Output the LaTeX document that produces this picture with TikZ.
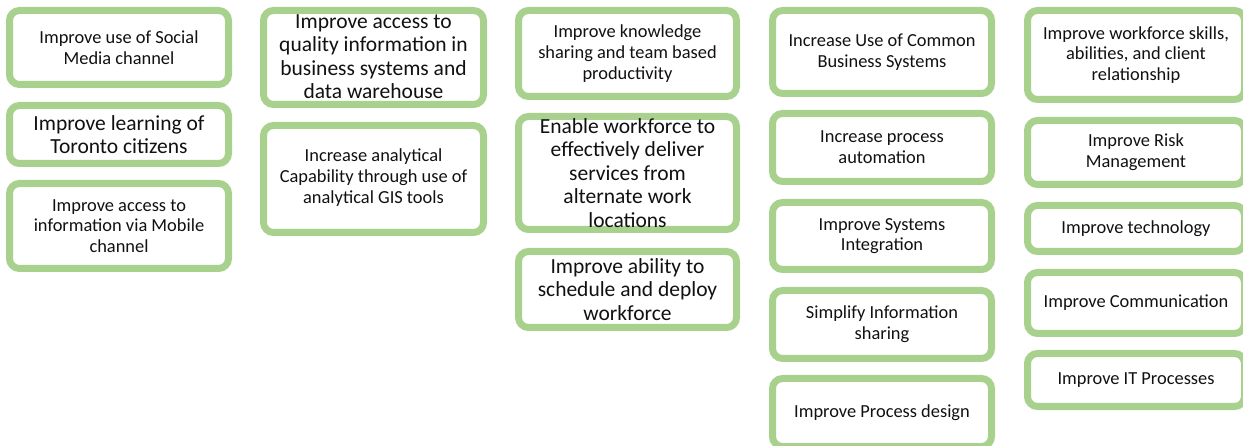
\documentclass[tikz,border=0pt]{standalone}
\usepackage{fontspec}
\setmainfont{Carlito}
\definecolor{boxgreen}{HTML}{A9D18E}
\definecolor{txtgray}{HTML}{111111}
\tikzset{
  gbox/.style={draw=boxgreen, line width=7pt, rounded corners=10pt, fill=white, inner sep=0pt},
  smalltxt/.style={align=center, inner sep=0pt, text=txtgray, font=\fontsize{18.4}{20.7}\selectfont},
  bigtxt/.style={align=center, inner sep=0pt, text=txtgray, font=\fontsize{21.5}{23.5}\selectfont}
}
\begin{document}
\begin{tikzpicture}[x=1pt,y=-1pt]
\useasboundingbox (0,0) rectangle (1243,446);
% column 1
\node[gbox, minimum width=219pt, minimum height=74pt] (a1) at (119,47.5) {};
\node[smalltxt] (ta1) at (a1.center) {Improve use of Social\\Media channel};
\node[gbox, minimum width=219pt, minimum height=58pt] (a2) at (119,134.5) {};
\node[bigtxt] (ta2) at (a2.center) {Improve learning of\\Toronto citizens};
\node[gbox, minimum width=219pt, minimum height=85pt] (a3) at (119,226) {};
\node[smalltxt] (ta3) at (a3.center) {Improve access to\\information via Mobile\\channel};
% column 2
\node[gbox, minimum width=220pt, minimum height=94pt] (b1) at (373.5,57.5) {};
\node[bigtxt] (tb1) at ([yshift=1pt]b1.center) {Improve access to\\quality information in\\business systems and\\data warehouse};
\node[gbox, minimum width=220pt, minimum height=107pt] (b2) at (373.5,179) {};
\node[smalltxt] (tb2) at ([yshift=1.5pt]b2.center) {Increase analytical\\Capability through use of\\analytical GIS tools};
% column 3
\node[gbox, minimum width=218pt, minimum height=86pt] (c1) at (627.5,53.5) {};
\node[smalltxt] (tc1) at (c1.center) {Improve knowledge\\sharing and team based\\productivity};
\node[gbox, minimum width=218pt, minimum height=113pt] (c2) at (627.5,173) {};
\node[bigtxt] (tc2) at (c2.center) {Enable workforce to\\effectively deliver\\services from\\alternate work\\locations};
\node[gbox, minimum width=218pt, minimum height=76pt] (c3) at (627.5,289.5) {};
\node[bigtxt] (tc3) at (c3.center) {Improve ability to\\schedule and deploy\\workforce};
% column 4
\node[gbox, minimum width=219pt, minimum height=83pt] (d1) at (882,52) {};
\node[smalltxt] (td1) at (d1.center) {Increase Use of Common\\Business Systems};
\node[gbox, minimum width=219pt, minimum height=68pt] (d2) at (882,147.5) {};
\node[smalltxt] (td2) at (d2.center) {Increase process\\automation};
\node[gbox, minimum width=219pt, minimum height=67pt] (d3) at (882,236) {};
\node[smalltxt] (td3) at (d3.center) {Improve Systems\\Integration};
\node[gbox, minimum width=219pt, minimum height=68pt] (d4) at (882,324.5) {};
\node[smalltxt] (td4) at (d4.center) {Simplify Information\\sharing};
\node[gbox, minimum width=219pt, minimum height=68pt] (d5) at (882,412.5) {};
\node[smalltxt] (td5) at (d5.center) {Improve Process design};
% column 5
\node[gbox, minimum width=217pt, minimum height=89pt] (e1) at (1136,55) {};
\node[smalltxt] (te1) at (e1.center) {Improve workforce skills,\\abilities, and client\\relationship};
\node[gbox, minimum width=217pt, minimum height=64pt] (e2) at (1136,152.5) {};
\node[smalltxt] (te2) at (e2.center) {Improve Risk\\Management};
\node[gbox, minimum width=217pt, minimum height=46pt] (e3) at (1136,228.5) {};
\node[smalltxt] (te3) at (e3.center) {Improve technology};
\node[gbox, minimum width=217pt, minimum height=61pt] (e4) at (1136,303) {};
\node[smalltxt] (te4) at (e4.center) {Improve Communication};
\node[gbox, minimum width=217pt, minimum height=53pt] (e5) at (1136,380) {};
\node[smalltxt] (te5) at (e5.center) {Improve IT Processes};
\end{tikzpicture}
\end{document}
